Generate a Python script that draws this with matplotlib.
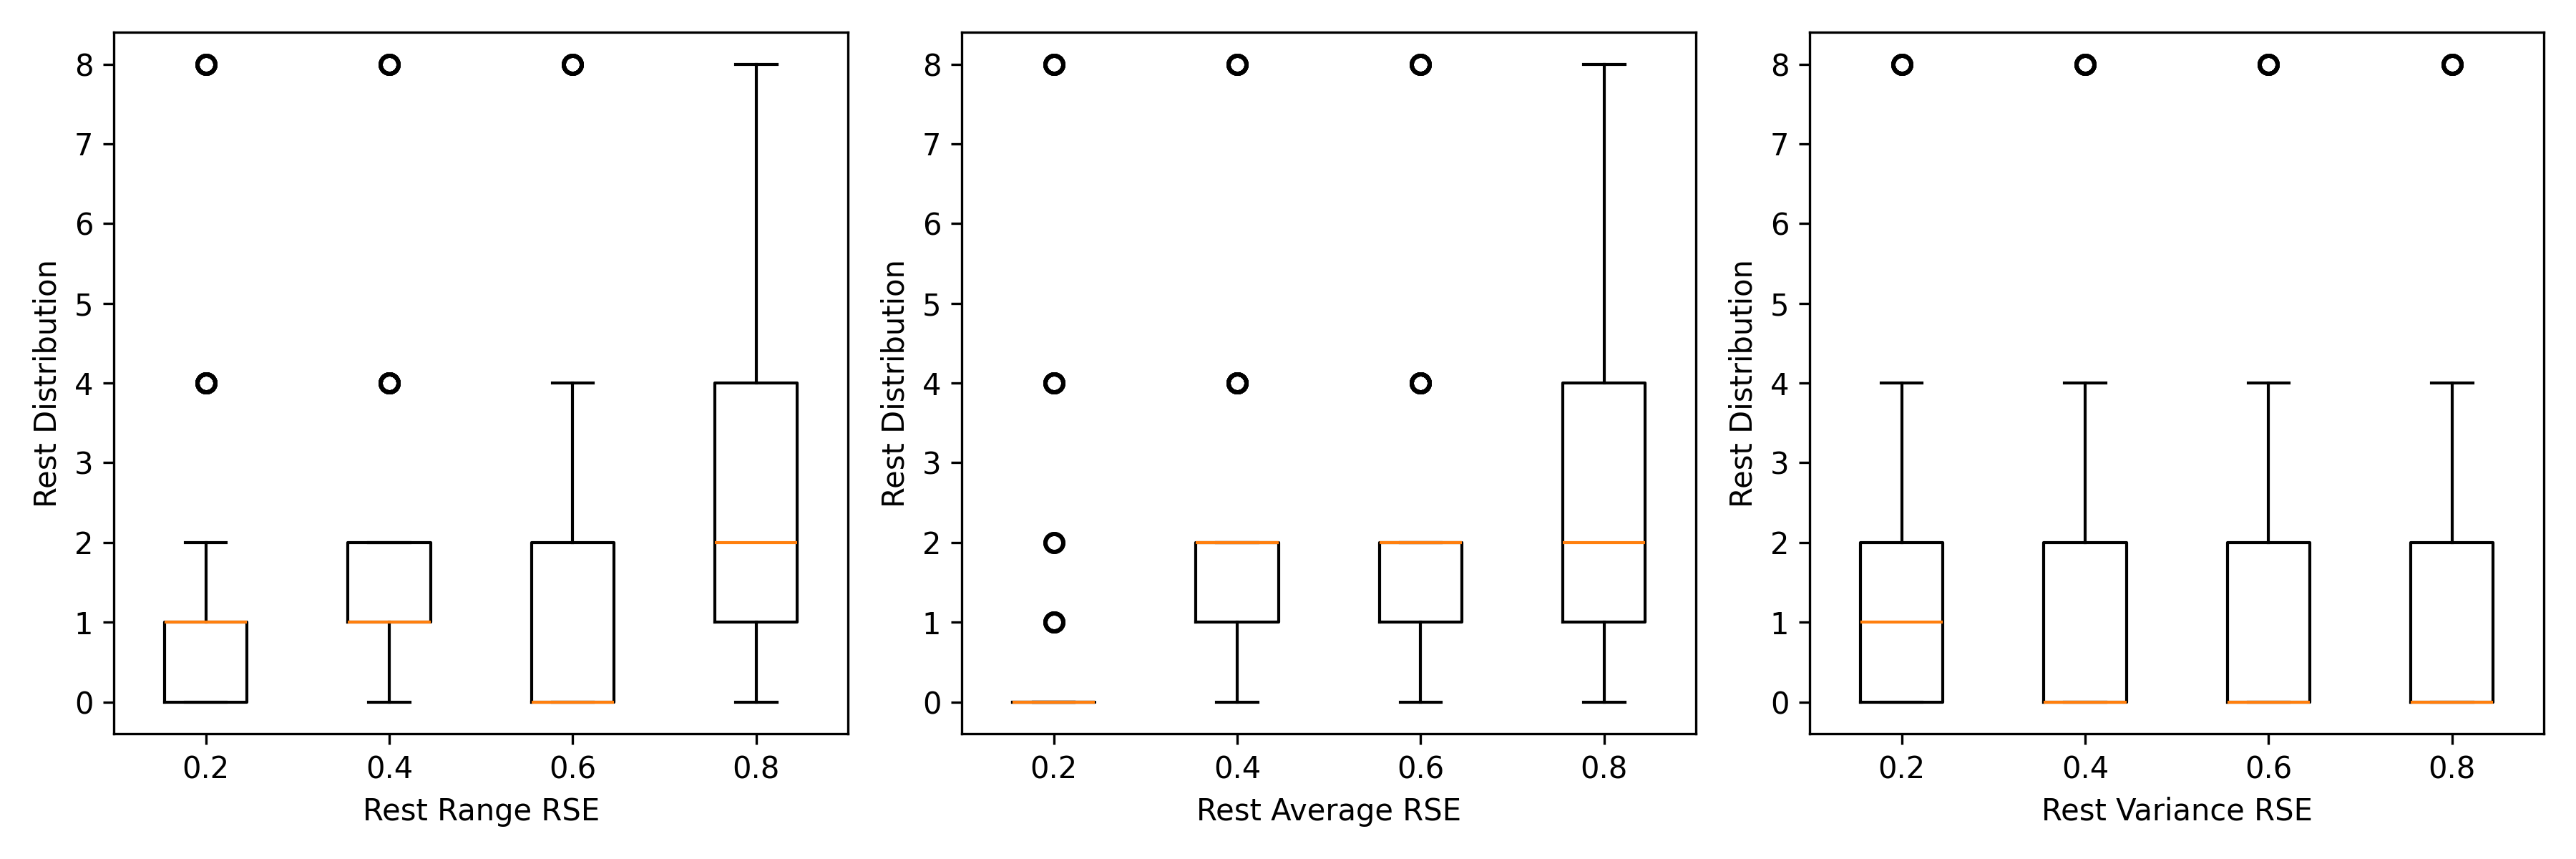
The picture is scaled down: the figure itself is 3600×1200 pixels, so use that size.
import matplotlib
matplotlib.use("Agg")
from matplotlib import pyplot as plt

# rest settings on the x axis
rse_labels = ["0.2", "0.4", "0.6", "0.8"]

# rest distribution samples, one list per box (value counts written out)
range_02 = [0] * 14 + [1] * 24 + [2] * 2 + [4] * 6 + [8] * 4
range_04 = [0] * 2 + [1] * 24 + [2] * 14 + [4] * 6 + [8] * 4
range_06 = [0] * 26 + [1] * 4 + [2] * 12 + [4] * 4 + [8] * 4
range_08 = [0] * 4 + [1] * 12 + [2] * 16 + [4] * 14 + [8] * 4

average_02 = [0] * 40 + [1] * 3 + [2] * 2 + [4] * 4 + [8] * 4
average_04 = [0] * 3 + [1] * 12 + [2] * 25 + [4] * 6 + [8] * 4
average_06 = [0] * 2 + [1] * 13 + [2] * 25 + [4] * 6 + [8] * 4
average_08 = [0] * 3 + [1] * 13 + [2] * 16 + [4] * 14 + [8] * 4

variance_02 = [0] * 14 + [1] * 14 + [2] * 12 + [4] * 6 + [8] * 4
variance_04 = [0] * 27 + [1] * 3 + [2] * 12 + [4] * 4 + [8] * 4
variance_06 = [0] * 27 + [1] * 3 + [2] * 12 + [4] * 4 + [8] * 4
variance_08 = [0] * 27 + [1] * 3 + [2] * 12 + [4] * 4 + [8] * 4

panels = [
    ("Rest Range RSE", [range_02, range_04, range_06, range_08]),
    ("Rest Average RSE", [average_02, average_04, average_06, average_08]),
    ("Rest Variance RSE", [variance_02, variance_04, variance_06, variance_08]),
]

fig, axes = plt.subplots(1, 3, figsize=(12, 4), dpi=300)

for ax, (xlabel, data) in zip(axes, panels):
    ax.boxplot(data, tick_labels=rse_labels,
               flierprops=dict(marker="o", markersize=6, markeredgewidth=1.4))
    ax.set_xlabel(xlabel)
    ax.set_ylabel("Rest Distribution")

plt.tight_layout()
plt.savefig("out.png")
